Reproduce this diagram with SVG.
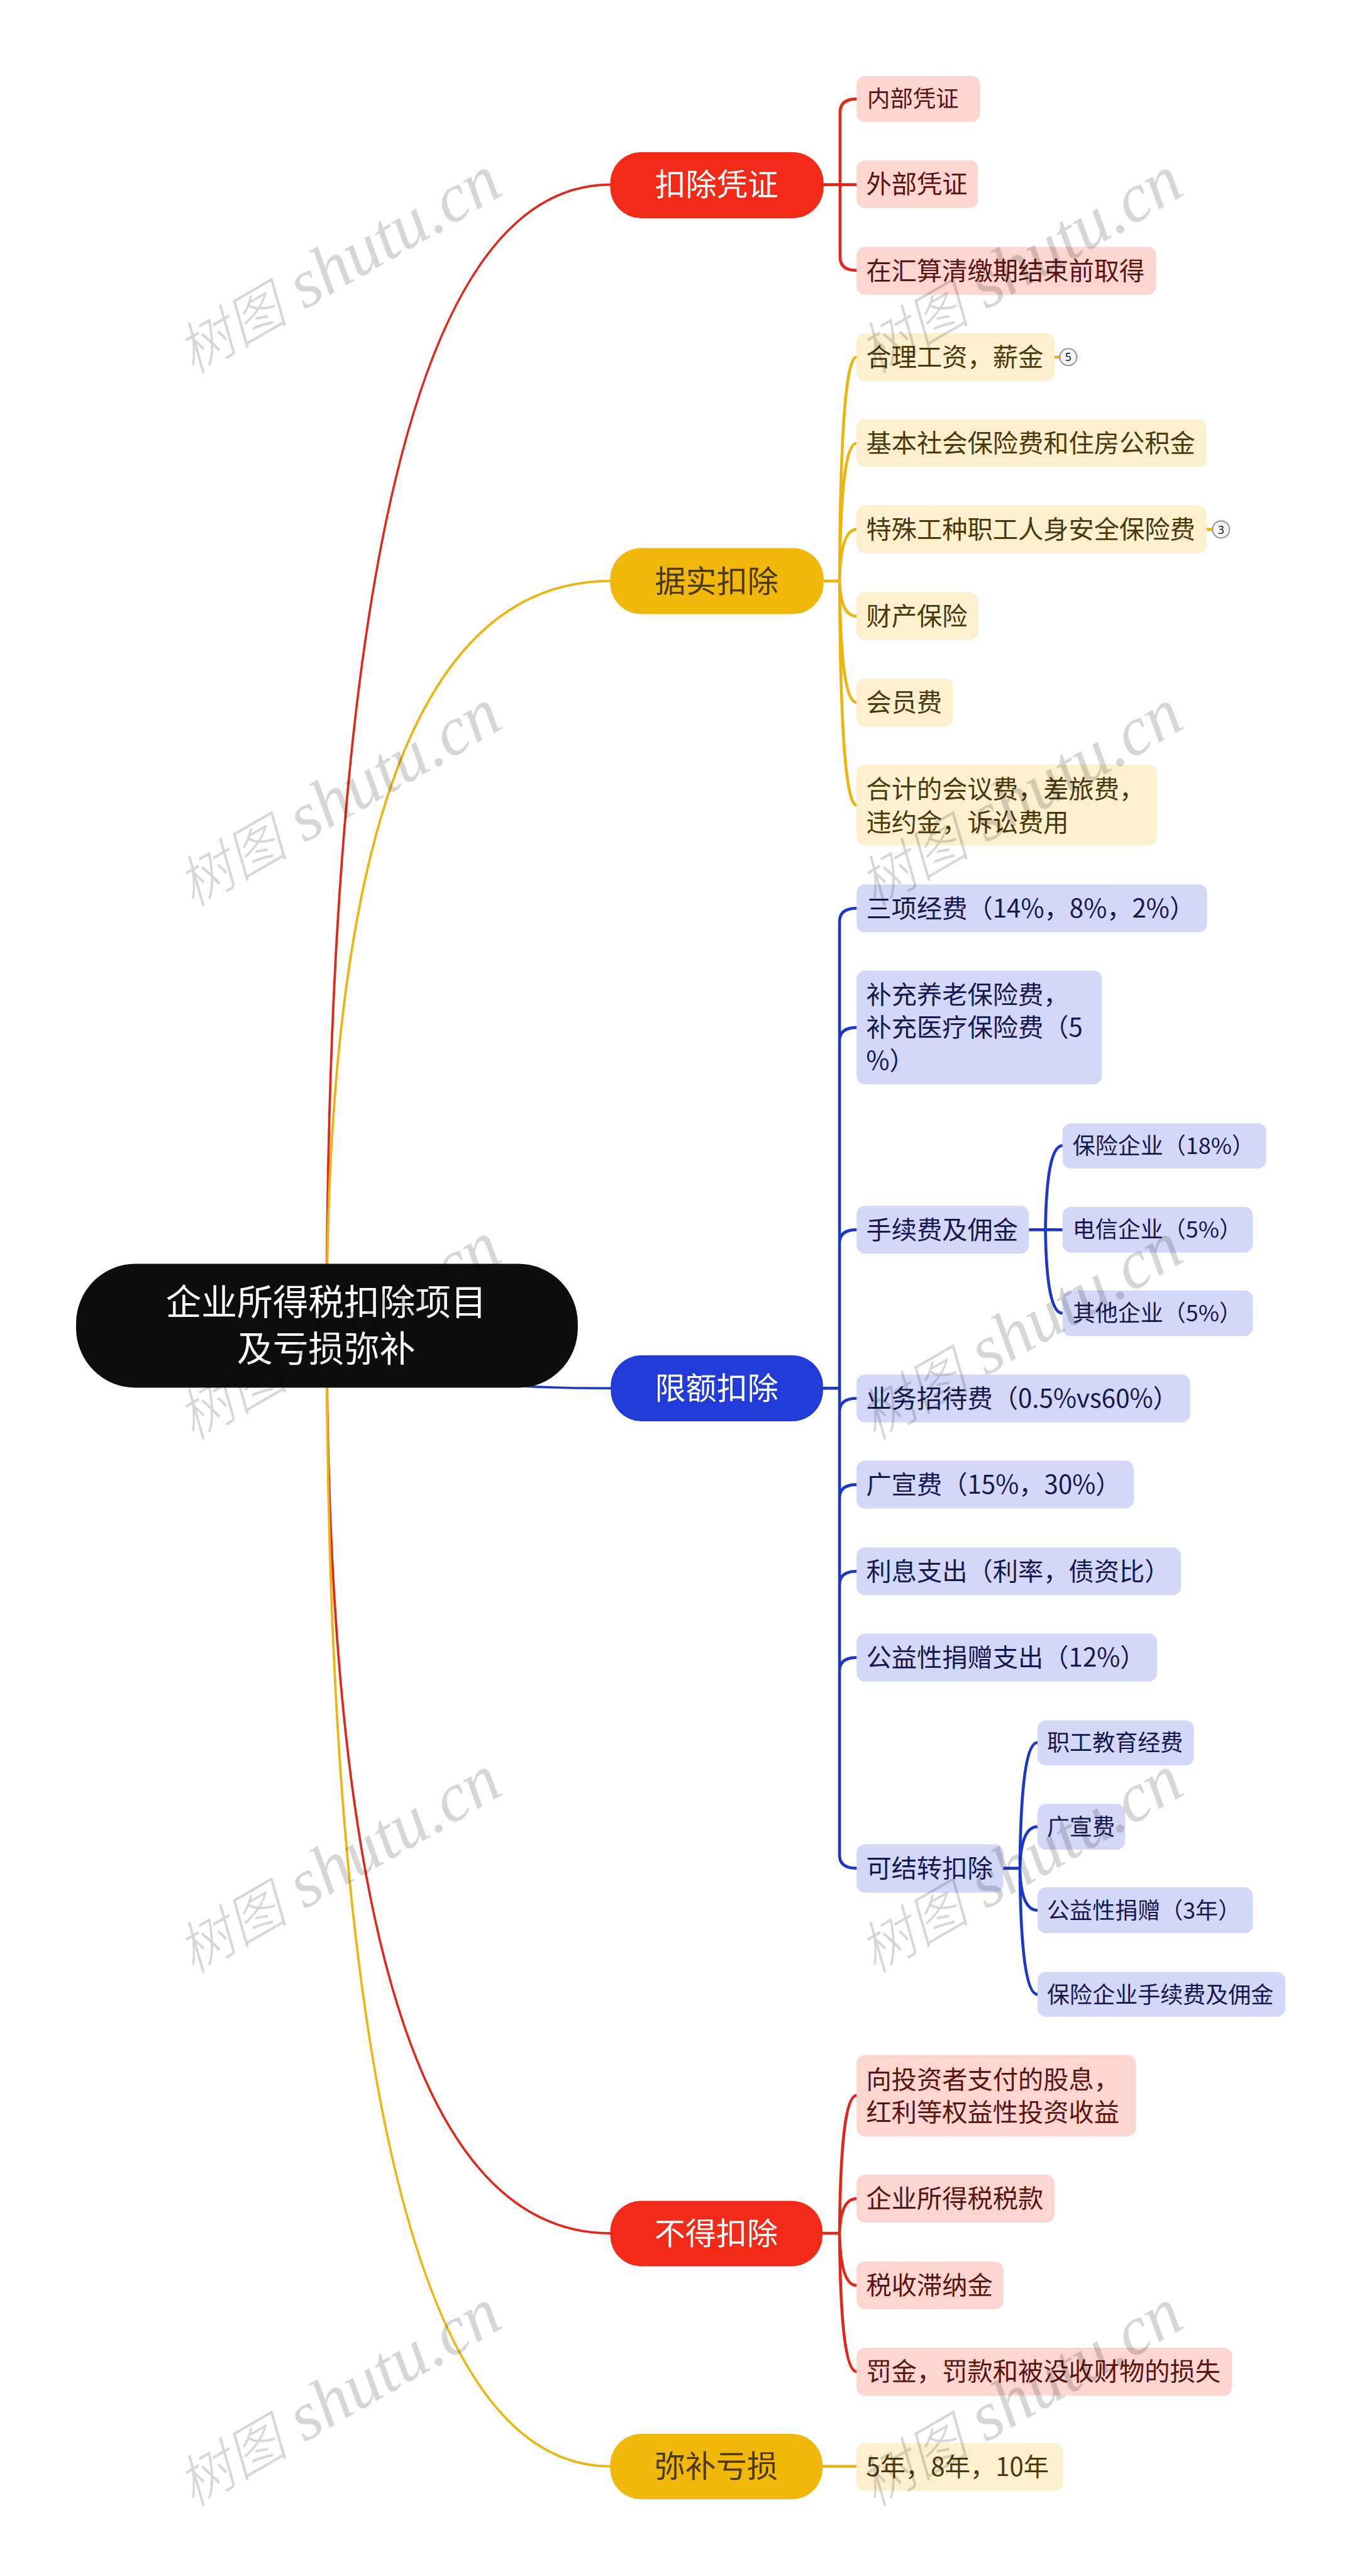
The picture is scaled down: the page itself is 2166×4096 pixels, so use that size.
<svg xmlns="http://www.w3.org/2000/svg" width="2166" height="4096" viewBox="0 0 2166 4096">
<style>
text{font-family:"Noto Sans CJK SC","Noto Sans",sans-serif}
.c{fill:none;stroke-linecap:round}
.cr{stroke:#e3261a;stroke-width:5.5}.cy{stroke:#edb50b;stroke-width:5.5}.cb{stroke:#1d37c6;stroke-width:5.5}
.mr{stroke:#e3261a;stroke-width:4.5}.my{stroke:#edb50b;stroke-width:4.5}.mb{stroke:#1d37c6;stroke-width:4.5}
.lr{fill:#fdd5d1}.ly{fill:#fcf0cf}.lb{fill:#d3d8f8}
.tr{fill:#5a1410;font-size:47.6px}.ty{fill:#49390b;font-size:47.6px}.tb{fill:#15184f;font-size:47.6px}
.s{font-size:42.6px}
.h{font-size:58px;text-anchor:middle}
.w{fill:#fff}.d{fill:#49390b}
.rt{fill:#fff;font-size:67px;text-anchor:middle}
.bd{fill:#f5f5f5;stroke:#999;stroke-width:2.5}
.bt{font-family:"Noto Sans",sans-serif;font-size:21px;text-anchor:middle;fill:#111}
.wm{mix-blend-mode:multiply}
.wm text{fill:#d6d6d6;font-family:"Liberation Serif","Noto Sans CJK SC",serif;font-style:italic;font-size:130px}
.wm tspan{font-size:105px;font-weight:300}
</style>
<rect width="2166" height="4096" fill="#fff"/>
<g transform="scale(0.84609)">
<g id="connectors">
<path class="c mr" d="M614 2491Q615 347 1147 347"/>
<path class="c mr" d="M614 2491Q615 4197 1147 4197"/>
<path class="c my" d="M614 2491Q615 1092 1147 1092"/>
<path class="c my" d="M614 2491Q615 4635 1147 4635"/>
<path class="c mb" d="M614 2491Q650 2609 1148 2609"/>
<path class="c cr" d="M1548 347H1610M1579 347V211Q1579 186 1610 186M1579 347V483Q1579 508 1610 508"/>
<path class="c cy" d="M1548 1092H1578M1578 1092Q1580 671 1610 671M1578 1092Q1580 833 1610 833M1578 1092Q1580 995 1610 995M1578 1092Q1580 1158 1610 1158M1578 1092Q1580 1320 1610 1320M1578 1092Q1580 1513 1610 1513"/>
<path class="c cy" d="M1982 671H1992M2268 995H2279"/>
<path class="c cb" d="M1547 2609H1578M1578 2609V1732Q1578 1707 1610 1707M1578 1956Q1578 1931 1610 1931M1578 2336Q1578 2311 1610 2311M1578 2653Q1578 2628 1610 2628M1578 2815Q1578 2790 1610 2790M1578 2978Q1578 2953 1610 2953M1578 3140Q1578 3115 1610 3115M1578 2609V3486Q1578 3511 1610 3511"/>
<path class="c cb" d="M1934 2311H1997M1965 2311Q1967 2153 1997 2153M1965 2311Q1967 2468 1997 2468"/>
<path class="c cb" d="M1886 3511H1917M1917 3511Q1919 3275 1950 3275M1917 3511Q1919 3433 1950 3433M1917 3511Q1919 3590 1950 3590M1917 3511Q1919 3748 1950 3748"/>
<path class="c cr" d="M1546 4197H1578M1578 4197Q1580 3938 1610 3938M1578 4197Q1580 4132 1610 4132M1578 4197Q1580 4295 1610 4295M1578 4197Q1580 4457 1610 4457"/>
<path class="c cy" d="M1546 4635H1610"/>
</g>
<g id="root"><rect x="143" y="2375" width="943" height="233" rx="112" fill="#0d0d0d"/><text class="rt" x="613" y="2471">企业所得税扣除项目</text><text class="rt" x="613" y="2559">及亏损弥补</text></g>

<g id="b1"><rect x="1147" y="286" width="401" height="124" rx="58" fill="#f22a17"/><text class="h w" x="1347" y="368">扣除凭证</text></g>
<g id="b1-1"><rect class="lr" x="1610" y="143" width="232" height="86" rx="16"/><text class="tr" style="font-size:43px" x="1630" y="201">内部凭证</text></g>
<g id="b1-2"><rect class="lr" x="1610" y="301" width="228" height="90" rx="16"/><text class="tr" x="1628" y="363">外部凭证</text></g>
<g id="b1-3"><rect class="lr" x="1610" y="464" width="563" height="90" rx="16"/><text class="tr" x="1628" y="526">在汇算清缴期结束前取得</text></g>

<g id="b2"><rect x="1147" y="1030" width="401" height="124" rx="58" fill="#f1b809"/><text class="h d" x="1347" y="1113">据实扣除</text></g>
<g id="b2-1"><rect class="ly" x="1610" y="626" width="372" height="90" rx="16"/><text class="ty" x="1628" y="688">合理工资，薪金</text></g>
<g id="badge-5"><circle class="bd" cx="2008" cy="671" r="16"/><text class="bt" x="2008" y="679">5</text></g>
<g id="b2-2"><rect class="ly" x="1610" y="788" width="658" height="90" rx="16"/><text class="ty" x="1628" y="850">基本社会保险费和住房公积金</text></g>
<g id="b2-3"><rect class="ly" x="1610" y="950" width="658" height="90" rx="16"/><text class="ty" x="1628" y="1012">特殊工种职工人身安全保险费</text></g>
<g id="badge-3"><circle class="bd" cx="2295" cy="995" r="16"/><text class="bt" x="2295" y="1003">3</text></g>
<g id="b2-4"><rect class="ly" x="1610" y="1113" width="228" height="90" rx="16"/><text class="ty" x="1628" y="1175">财产保险</text></g>
<g id="b2-5"><rect class="ly" x="1610" y="1275" width="181" height="90" rx="16"/><text class="ty" x="1628" y="1337">会员费</text></g>
<g id="b2-6"><rect class="ly" x="1610" y="1437" width="565" height="152" rx="16"/><text class="ty" x="1628" y="1500">合计的会议费，差旅费，</text><text class="ty" x="1628" y="1562">违约金，诉讼费用</text></g>

<g id="b3"><rect x="1148" y="2547" width="399" height="124" rx="58" fill="#213bd9"/><text class="h w" x="1347" y="2630">限额扣除</text></g>
<g id="b3-1"><rect class="lb" x="1610" y="1662" width="659" height="90" rx="16"/><text class="tb" x="1628" y="1724">三项经费（14%，8%，2%）</text></g>
<g id="b3-2"><rect class="lb" x="1610" y="1824" width="461" height="214" rx="16"/><text class="tb" x="1628" y="1886">补充养老保险费，</text><text class="tb" x="1628" y="1948">补充医疗保险费（5</text><text class="tb" x="1628" y="2010">%）</text></g>
<g id="b3-3"><rect class="lb" x="1610" y="2266" width="324" height="90" rx="16"/><text class="tb" x="1628" y="2328">手续费及佣金</text></g>
<g id="b3-3-1"><rect class="lb" x="1997" y="2111" width="383" height="85" rx="16"/><text class="tb s" x="2016" y="2169">保险企业（18%）</text></g>
<g id="b3-3-2"><rect class="lb" x="1997" y="2268" width="358" height="86" rx="16"/><text class="tb s" x="2016" y="2326">电信企业（5%）</text></g>
<g id="b3-3-3"><rect class="lb" x="1997" y="2425" width="358" height="86" rx="16"/><text class="tb s" x="2016" y="2483">其他企业（5%）</text></g>
<g id="b3-4"><rect class="lb" x="1610" y="2583" width="627" height="90" rx="16"/><text class="tb" x="1628" y="2645">业务招待费（0.5%vs60%）</text></g>
<g id="b3-5"><rect class="lb" x="1610" y="2745" width="521" height="90" rx="16"/><text class="tb" x="1628" y="2807">广宣费（15%，30%）</text></g>
<g id="b3-6"><rect class="lb" x="1610" y="2908" width="610" height="90" rx="16"/><text class="tb" x="1628" y="2970">利息支出（利率，债资比）</text></g>
<g id="b3-7"><rect class="lb" x="1610" y="3070" width="565" height="90" rx="16"/><text class="tb" x="1628" y="3132">公益性捐赠支出（12%）</text></g>
<g id="b3-8"><rect class="lb" x="1610" y="3466" width="276" height="91" rx="16"/><text class="tb" x="1628" y="3528">可结转扣除</text></g>
<g id="b3-8-1"><rect class="lb" x="1950" y="3233" width="294" height="85" rx="16"/><text class="tb s" x="1968" y="3291">职工教育经费</text></g>
<g id="b3-8-2"><rect class="lb" x="1950" y="3390" width="165" height="86" rx="16"/><text class="tb s" x="1968" y="3449">广宣费</text></g>
<g id="b3-8-3"><rect class="lb" x="1950" y="3547" width="405" height="86" rx="16"/><text class="tb s" x="1968" y="3606">公益性捐赠（3年）</text></g>
<g id="b3-8-4"><rect class="lb" x="1950" y="3706" width="466" height="84" rx="16"/><text class="tb s" x="1968" y="3764">保险企业手续费及佣金</text></g>

<g id="b4"><rect x="1147" y="4136" width="399" height="123" rx="58" fill="#f22a17"/><text class="h w" x="1346" y="4218">不得扣除</text></g>
<g id="b4-1"><rect class="lr" x="1610" y="3862" width="525" height="153" rx="16"/><text class="tr" x="1628" y="3925">向投资者支付的股息，</text><text class="tr" x="1628" y="3987">红利等权益性投资收益</text></g>
<g id="b4-2"><rect class="lr" x="1610" y="4087" width="372" height="90" rx="16"/><text class="tr" x="1628" y="4149">企业所得税税款</text></g>
<g id="b4-3"><rect class="lr" x="1610" y="4250" width="276" height="90" rx="16"/><text class="tr" x="1628" y="4312">税收滞纳金</text></g>
<g id="b4-4"><rect class="lr" x="1610" y="4412" width="706" height="90" rx="16"/><text class="tr" x="1628" y="4474">罚金，罚款和被没收财物的损失</text></g>

<g id="b5"><rect x="1147" y="4574" width="399" height="123" rx="58" fill="#f1b809"/><text class="h d" x="1346" y="4656">弥补亏损</text></g>
<g id="b5-1"><rect class="ly" x="1610" y="4591" width="388" height="90" rx="16"/><text class="ty" x="1628" y="4653">5年，8年，10年</text></g>

<g class="wm" id="watermarks">
<text transform="translate(362 704) rotate(-30)"><tspan>树图</tspan> shutu.cn</text>
<text transform="translate(1643 704) rotate(-30)"><tspan>树图</tspan> shutu.cn</text>
<text transform="translate(362 1706) rotate(-30)"><tspan>树图</tspan> shutu.cn</text>
<text transform="translate(1643 1706) rotate(-30)"><tspan>树图</tspan> shutu.cn</text>
<text transform="translate(362 2708) rotate(-30)"><tspan>树图</tspan> shutu.cn</text>
<text transform="translate(1643 2708) rotate(-30)"><tspan>树图</tspan> shutu.cn</text>
<text transform="translate(362 3710) rotate(-30)"><tspan>树图</tspan> shutu.cn</text>
<text transform="translate(1643 3710) rotate(-30)"><tspan>树图</tspan> shutu.cn</text>
<text transform="translate(362 4712) rotate(-30)"><tspan>树图</tspan> shutu.cn</text>
<text transform="translate(1643 4712) rotate(-30)"><tspan>树图</tspan> shutu.cn</text>
</g>
</g>
</svg>
